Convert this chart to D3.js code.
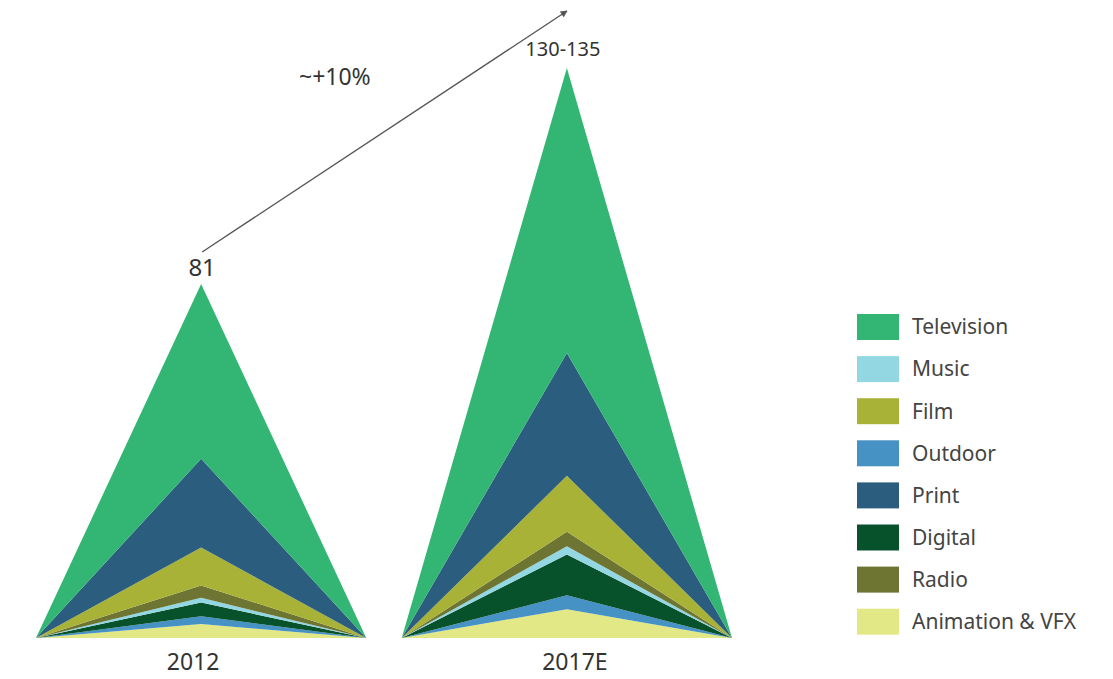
<!DOCTYPE html>
<html>
<head>
<meta charset="utf-8">
<script src="https://cdn.jsdelivr.net/npm/d3@7"></script>
<style>
  html, body { margin: 0; padding: 0; background: #fff; }
  svg { display: block; font-family: "Noto Sans", "Open Sans", sans-serif; }
</style>
</head>
<body>
<svg id="chart" width="1113" height="679"></svg>
<script>
// Market size by segment (stacked, bottom to top)
const years = ["2012", "2017E"];
const totalLabels = ["81", "130-135"];
const growthLabel = "~+10%";
const segments = ["Animation & VFX", "Outdoor", "Digital", "Music", "Radio", "Film", "Print", "Television"];
const values2012  = [3.2, 1.8, 3.1, 1.1, 2.8, 8.7, 20.3, 40.0];
const values2017E = [6.6, 3.2, 9.3, 1.9, 3.3, 12.8, 28.1, 65.2];
const legendOrder = ["Television", "Music", "Film", "Outdoor", "Print", "Digital", "Radio", "Animation & VFX"];
const colors = {
  "Television": "#33b673",
  "Music": "#93d7e3",
  "Film": "#a8b237",
  "Outdoor": "#4692c4",
  "Print": "#2b5d7e",
  "Digital": "#07512b",
  "Radio": "#6e7431",
  "Animation & VFX": "#e3e886"
};

const svg = d3.select("#chart");
const baseY = 638;

const x = d3.scaleBand().domain(years).range([36, 732]).paddingInner(0.097);
const y = d3.scaleLinear().domain([0, 130.4]).range([baseY, 68]);

const seriesValues = { "2012": values2012, "2017E": values2017E };

// Each year is a mountain: zero at both edges, full value at the centre
years.forEach(year => {
  const vals = seriesValues[year];
  const x0 = x(year), xc = x(year) + x.bandwidth() / 2, x1 = x(year) + x.bandwidth();
  const rows = [x0, xc, x1].map((px, i) => {
    const r = { px };
    segments.forEach((s, k) => { r[s] = i === 1 ? vals[k] : 0; });
    return r;
  });
  const stacked = d3.stack().keys(segments)(rows);
  const area = d3.area()
    .x(d => d.data.px)
    .y0(d => y(d[0]))
    .y1(d => y(d[1]));
  svg.append("g").selectAll("path")
    .data(stacked)
    .join("path")
    .attr("d", area)
    .attr("fill", d => colors[d.key]);
});

// Category labels
const xAxis = d3.axisBottom(x).tickSize(0).tickPadding(16);
const axisG = svg.append("g").attr("transform", `translate(0,${baseY})`).call(xAxis);
axisG.select(".domain").remove();
axisG.selectAll("text")
  .attr("font-size", 23)
  .attr("fill", "#333")
  .attr("font-family", "'Noto Sans', 'Open Sans', sans-serif")
  .attr("dx", (d, i) => i === 0 ? -8 : 8);

// Totals above each peak
const totals = [d3.sum(values2012), d3.sum(values2017E)];
svg.append("text")
  .attr("x", x(years[0]) + x.bandwidth() / 2 + 1)
  .attr("y", y(totals[0]) - 8)
  .attr("text-anchor", "middle")
  .attr("font-size", 24).attr("fill", "#333")
  .text(totalLabels[0]);
svg.append("text")
  .attr("x", x(years[1]) + x.bandwidth() / 2 - 4)
  .attr("y", y(totals[1]) - 12)
  .attr("text-anchor", "middle")
  .attr("font-size", 20).attr("fill", "#333")
  .text(totalLabels[1]);

// Growth arrow
svg.append("defs").append("marker")
  .attr("id", "arrowhead")
  .attr("viewBox", "0 0 10 10")
  .attr("refX", 9).attr("refY", 5)
  .attr("markerWidth", 7).attr("markerHeight", 7)
  .attr("markerUnits", "userSpaceOnUse")
  .attr("orient", "auto")
  .append("path").attr("d", "M0,0 L10,5 L0,10 Z").attr("fill", "#555");

svg.append("line")
  .attr("x1", x(years[0]) + x.bandwidth() / 2 + 1).attr("y1", y(totals[0]) - 32)
  .attr("x2", 567).attr("y2", 11)
  .attr("stroke", "#555").attr("stroke-width", 1.3)
  .attr("marker-end", "url(#arrowhead)");

svg.append("text")
  .attr("x", 299).attr("y", 85)
  .attr("font-size", 23).attr("fill", "#333")
  .text(growthLabel);

// Legend
const legend = svg.append("g").attr("transform", "translate(857,314)");
const item = legend.selectAll("g").data(legendOrder).join("g")
  .attr("transform", (d, i) => `translate(0,${i * 42.1})`);
item.append("rect").attr("width", 42).attr("height", 26).attr("fill", d => colors[d]);
item.append("text")
  .attr("x", 55).attr("y", 13).attr("dy", "0.35em")
  .attr("font-size", 21).attr("fill", "#444")
  .text(d => d);
</script>
</body>
</html>
